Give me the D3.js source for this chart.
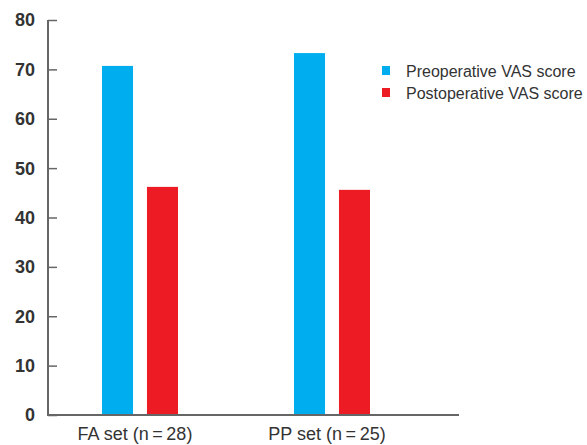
<!DOCTYPE html>
<html><head><meta charset="utf-8">
<script src="https://cdn.jsdelivr.net/npm/d3@7"></script>
<style>body{margin:0;background:#fff}</style>
</head><body>
<svg id="c" width="587" height="445"></svg>
<script>
const categories = ["FA set (n\u2009=\u200928)", "PP set (n\u2009=\u200925)"];
const seriesNames = ["Preoperative VAS score", "Postoperative VAS score"];
const preValues = [70.7, 73.3];
const postValues = [46.2, 45.6];
const yTicks = [0, 10, 20, 30, 40, 50, 60, 70, 80];
const colors = ["#00AEEF", "#ED1C24"];

const svg = d3.select("#c");
const y = d3.scaleLinear().domain([0, 80]).range([415, 20]);
const x0 = d3.scaleBand().domain(categories).range([44, 428]);
const x1 = d3.scaleBand().domain(seriesNames).range([-38, 38]).paddingInner(0.31);
const values = [preValues, postValues];

// bars
categories.forEach((c, i) => {
  seriesNames.forEach((s, j) => {
    const cx = x0(c) + x0.bandwidth() / 2;
    svg.append("rect")
      .attr("x", cx + x1(s))
      .attr("y", y(values[j][i]))
      .attr("width", x1.bandwidth())
      .attr("height", y(0) - y(values[j][i]))
      .attr("fill", colors[j]);
  });
});

// y axis
const yAxis = svg.append("g").attr("transform", "translate(48,0)")
  .call(d3.axisRight(y).tickValues(yTicks).tickSize(9).tickFormat(""));
yAxis.select(".domain").attr("stroke", "#666").attr("stroke-width", 2).attr("d", "M0,20V416");
yAxis.selectAll(".tick line").attr("stroke", "#666").attr("stroke-width", 1.5);
svg.append("g").selectAll("text").data(yTicks).join("text")
  .attr("x", 35).attr("y", d => y(d)).attr("dy", "0.36em")
  .attr("text-anchor", "end")
  .attr("font-family", "Liberation Sans, Arial, sans-serif")
  .attr("font-weight", "bold").attr("font-size", 18).attr("fill", "#333")
  .text(d => d);

// x axis line
svg.append("line").attr("x1", 47).attr("x2", 459).attr("y1", 415).attr("y2", 415)
  .attr("stroke", "#666").attr("stroke-width", 2);

// x labels
svg.append("g").selectAll("text").data(categories).join("text")
  .attr("x", d => x0(d) + x0.bandwidth() / 2 - 5)
  .attr("y", 440)
  .attr("text-anchor", "middle")
  .attr("font-family", "Liberation Sans, Arial, sans-serif")
  .attr("font-size", 18).attr("fill", "#333")
  .text(d => d);

// legend
const lg = svg.append("g");
seriesNames.forEach((s, j) => {
  lg.append("rect").attr("x", 382).attr("y", 66 + j * 22).attr("width", 8).attr("height", 9).attr("fill", colors[j]);
  lg.append("text").attr("x", 406).attr("y", 71 + j * 22).attr("dy", "0.36em")
    .attr("font-family", "Liberation Sans, Arial, sans-serif")
    .attr("font-size", 16).attr("fill", "#333").text(s);
});
</script>
</body></html>
